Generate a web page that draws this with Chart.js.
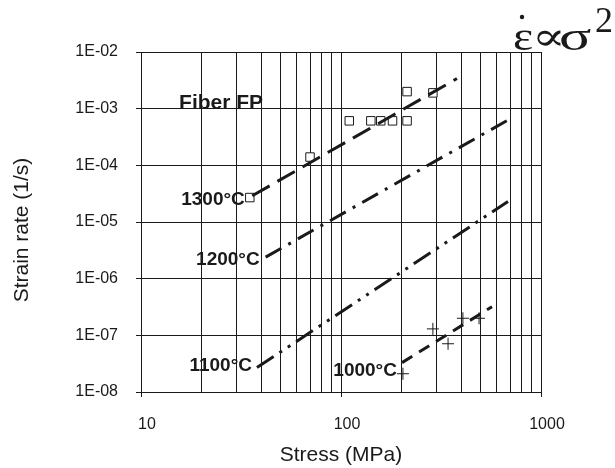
<!DOCTYPE html>
<html>
<head>
<meta charset="utf-8">
<script src="https://cdn.jsdelivr.net/npm/chart.js@4"></script>
<style>
html, body { margin: 0; padding: 0; background: #fff; }
</style>
</head>
<body>
<canvas id="creep" width="615" height="468"></canvas>
<script>
var stressTicks = [10, 20, 30, 40, 50, 60, 70, 80, 90, 100, 200, 300, 400, 500, 600, 700, 800, 900, 1000];
var stressLabels = [10, 100, 1000];
var rateTicks = [1e-8, 1e-7, 1e-6, 1e-5, 1e-4, 1e-3, 1e-2];
var rateLabels = ['1E-08', '1E-07', '1E-06', '1E-05', '1E-04', '1E-03', '1E-02'];

// measured points
var stress1300 = [35, 70, 110, 141, 158, 181, 214, 214, 288];
var rate1300 = [2.7e-5, 1.4e-4, 6.1e-4, 6.1e-4, 6.1e-4, 6.1e-4, 6.1e-4, 2.0e-3, 1.9e-3];
var stress1000 = [204, 288, 343, 407, 490];
var rate1000 = [2.1e-8, 1.3e-7, 7.1e-8, 2.0e-7, 2.0e-7];

// fitted lines, end points
var fitStress1300 = [36, 380], fitRate1300 = [2.9e-5, 3.4e-3];
var fitStress1200 = [42, 684], fitRate1200 = [2.4e-6, 6.3e-4];
var fitStress1100 = [38, 684], fitRate1100 = [2.7e-8, 2.3e-5];
var fitStress1000 = [202, 569], fitRate1000 = [3.3e-8, 3.2e-7];

var tempLabels = ['1300°C', '1200°C', '1100°C', '1000°C'];
var tempAnchorStress = [35, 42, 38, 204];
var tempAnchorRate = [2.7e-5, 2.4e-6, 2.7e-8, 2.1e-8];

var FONT = '"Liberation Sans", Arial, sans-serif';
var SERIF = '"Liberation Serif", "DejaVu Serif", serif';
var INK = '#1a1a1a';

function pts(xs, ys) {
  return xs.map(function (x, i) { return { x: x, y: ys[i] }; });
}

function fitLine(xs, ys, dash) {
  return {
    data: pts(xs, ys),
    showLine: true,
    borderColor: INK,
    borderWidth: 3,
    borderDash: dash,
    borderCapStyle: 'butt',
    pointRadius: 0
  };
}

function wideText(ctx, t, x, y, sx) {
  ctx.save();
  ctx.translate(x, y);
  ctx.scale(sx, 1);
  ctx.fillText(t, 0, 0);
  ctx.restore();
}

// text on the plot: temperatures, fiber name, the power law, y title
var textPlugin = {
  id: 'plotText',
  afterDatasetsDraw: function (chart) {
    var ctx = chart.ctx, xs = chart.scales.x, ys = chart.scales.y;
    var offs = [[-5, 2], [-6, 3], [-5, -2], [-6, -3]];
    ctx.save();
    ctx.fillStyle = INK;
    ctx.font = 'bold 19px ' + FONT;
    ctx.textAlign = 'right';
    ctx.textBaseline = 'middle';
    tempLabels.forEach(function (t, i) {
      ctx.fillText(t, xs.getPixelForValue(tempAnchorStress[i]) + offs[i][0],
        ys.getPixelForValue(tempAnchorRate[i]) + offs[i][1]);
    });
    ctx.textAlign = 'left';
    ctx.textBaseline = 'alphabetic';
    ctx.font = 'bold 21px ' + FONT;
    ctx.fillText('Fiber FP', xs.getPixelForValue(15.5), ys.getPixelForValue(1e-3));

    ctx.font = '40px ' + SERIF;
    wideText(ctx, 'ε', 513, 50, 1.2);
    ctx.beginPath();
    ctx.arc(522, 17, 2.2, 0, Math.PI * 2);
    ctx.fill();
    wideText(ctx, '∝', 532, 50, 1.25);
    wideText(ctx, 'σ', 559, 50, 1.5);
    ctx.font = '36px ' + SERIF;
    wideText(ctx, '2', 595, 32, 1.0);

    ctx.font = '21px ' + FONT;
    ctx.textAlign = 'center';
    ctx.textBaseline = 'middle';
    ctx.translate(22, 230);
    ctx.rotate(-Math.PI / 2);
    ctx.fillText('Strain rate (1/s)', 0, 0);
    ctx.restore();
  }
};

new Chart(document.getElementById('creep'), {
  type: 'scatter',
  data: {
    datasets: [
      fitLine(fitStress1300, fitRate1300, [20, 9]),
      fitLine(fitStress1200, fitRate1200, [18, 8, 3, 8]),
      fitLine(fitStress1100, fitRate1100, [20, 7, 3, 7, 3, 7]),
      fitLine(fitStress1000, fitRate1000, [12, 8]),
      {
        data: pts(stress1300, rate1300),
        pointStyle: 'rect',
        pointRadius: 6,
        borderColor: INK,
        borderWidth: 1,
        backgroundColor: '#fff'
      },
      {
        data: pts(stress1000, rate1000),
        pointStyle: 'cross',
        pointRadius: 6,
        borderColor: INK,
        borderWidth: 1
      }
    ]
  },
  options: {
    responsive: false,
    animation: false,
    layout: { padding: { top: 52, right: 74, left: 0, bottom: 0 } },
    plugins: { legend: { display: false }, tooltip: { enabled: false } },
    scales: {
      x: {
        type: 'logarithmic',
        min: 10,
        max: 1000,
        afterBuildTicks: function (s) { s.ticks = stressTicks.map(function (v) { return { value: v }; }); },
        afterFit: function (s) { s.height = 76; },
        ticks: {
          autoSkip: false,
          maxRotation: 0,
          padding: 18,
          labelOffset: 6,
          color: INK,
          font: { family: FONT, size: 16 },
          callback: function (v) { return stressLabels.indexOf(v) >= 0 ? String(v) : ''; }
        },
        grid: {
          color: INK,
          lineWidth: 1,
          tickLength: 5,
          tickColor: function (c) {
            return c.tick && stressLabels.indexOf(c.tick.value) >= 0 ? INK : 'rgba(0,0,0,0)';
          }
        },
        border: { color: INK, width: 1 },
        title: {
          display: true,
          text: 'Stress (MPa)',
          color: INK,
          font: { family: FONT, size: 21 },
          padding: { top: 0, bottom: 0 }
        }
      },
      y: {
        type: 'logarithmic',
        min: 1e-8,
        max: 1e-2,
        afterBuildTicks: function (s) { s.ticks = rateTicks.map(function (v) { return { value: v }; }); },
        afterFit: function (s) { s.width = 141; },
        ticks: {
          padding: 18,
          color: INK,
          font: { family: FONT, size: 16 },
          callback: function (v, i) { return rateLabels[i]; }
        },
        grid: { color: INK, lineWidth: 1, tickLength: 5 },
        border: { color: INK, width: 1 },
        title: { display: false }
      }
    }
  },
  plugins: [textPlugin]
});
</script>
</body>
</html>
